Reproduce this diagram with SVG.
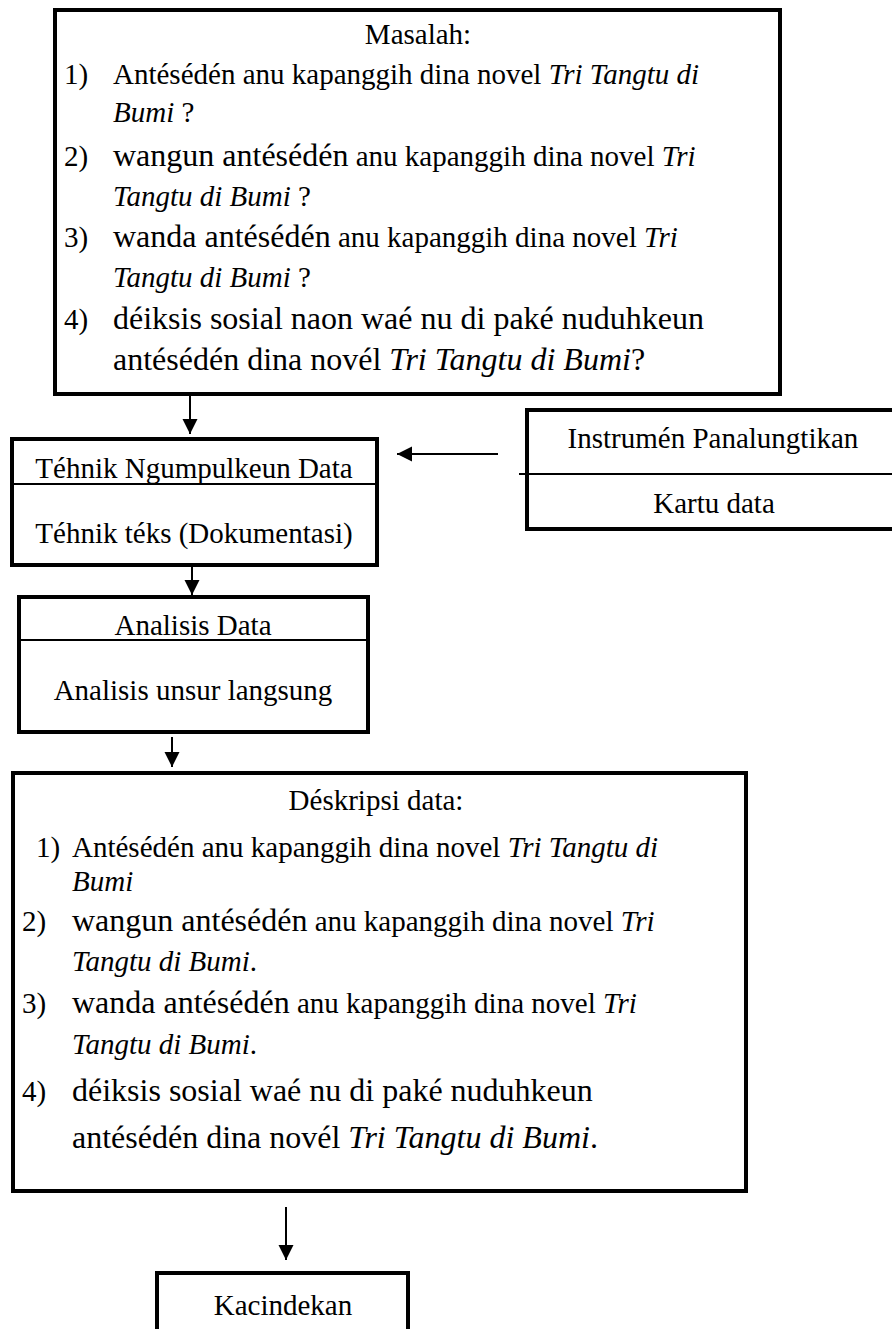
<svg xmlns="http://www.w3.org/2000/svg" width="892" height="1329" viewBox="0 0 892 1329">
<style>
.box{fill:#fff;stroke:#000;stroke-width:4}
.div{stroke:#000;stroke-width:2}
.t{font-family:"Liberation Serif","Times New Roman",serif;font-size:29px;fill:#000}
.c{text-anchor:middle}
.i{font-style:italic}
.b{font-size:32px}
.conn{stroke:#000;stroke-width:2;fill:none}
</style>
<defs>
<marker id="ah" markerUnits="userSpaceOnUse" markerWidth="16" markerHeight="16" refX="15" refY="7.5" orient="auto">
<path d="M0,0 L15,7.5 L0,15 z" fill="#000"/>
</marker>
</defs>
<rect width="892" height="1329" fill="#fff"/>

<g id="masalah">
<rect class="box" x="55" y="10" width="725" height="384"/>
<text class="t c" x="418" y="44">Masalah:</text>
<text class="t" x="64" y="84">1)</text>
<text class="t" x="113" y="84">Antésédén anu kapanggih dina novel <tspan class="i">Tri Tangtu di</tspan></text>
<text class="t" x="113" y="122"><tspan class="i">Bumi</tspan> ?</text>
<text class="t" x="64" y="166">2)</text>
<text class="t" x="113" y="166"><tspan class="b">wangun antésédén</tspan> anu kapanggih dina novel <tspan class="i">Tri</tspan></text>
<text class="t" x="113" y="206"><tspan class="i">Tangtu di Bumi</tspan> ?</text>
<text class="t" x="64" y="247">3)</text>
<text class="t" x="113" y="247"><tspan class="b">wanda antésédén</tspan> anu kapanggih dina novel <tspan class="i">Tri</tspan></text>
<text class="t" x="113" y="287"><tspan class="i">Tangtu di Bumi</tspan> ?</text>
<text class="t" x="64" y="329">4)</text>
<text class="t b" x="113" y="329">déiksis sosial naon waé nu di paké nuduhkeun</text>
<text class="t b" x="113" y="370">antésédén dina novél <tspan class="i">Tri Tangtu di Bumi</tspan>?</text>
</g>

<g id="tehnik">
<rect class="box" x="12" y="439" width="365" height="126"/>
<line class="div" x1="12" y1="484" x2="377" y2="484"/>
<text class="t c" x="194" y="478">Téhnik Ngumpulkeun Data</text>
<text class="t c" x="194" y="543">Téhnik téks (Dokumentasi)</text>
</g>

<g id="instrumen">
<rect class="box" x="527" y="410" width="380" height="119"/>
<line class="div" x1="519" y1="474" x2="900" y2="474"/>
<text class="t c" x="713" y="448">Instrumén Panalungtikan</text>
<text class="t c" x="714" y="513">Kartu data</text>
</g>

<g id="analisis">
<rect class="box" x="19" y="597" width="349" height="135"/>
<line class="div" x1="19" y1="640" x2="368" y2="640"/>
<text class="t c" x="193" y="635">Analisis Data</text>
<text class="t c" x="193" y="700">Analisis unsur langsung</text>
</g>

<g id="deskripsi">
<rect class="box" x="13" y="773" width="733" height="418"/>
<text class="t c" x="376" y="810">Déskripsi data:</text>
<text class="t" x="36" y="857">1)</text>
<text class="t" x="72" y="857">Antésédén anu kapanggih dina novel <tspan class="i">Tri Tangtu di</tspan></text>
<text class="t i" x="72" y="891">Bumi</text>
<text class="t" x="22" y="931">2)</text>
<text class="t" x="72" y="931"><tspan class="b">wangun antésédén</tspan> anu kapanggih dina novel <tspan class="i">Tri</tspan></text>
<text class="t" x="72" y="971"><tspan class="i">Tangtu di Bumi</tspan>.</text>
<text class="t" x="22" y="1013">3)</text>
<text class="t" x="72" y="1013"><tspan class="b">wanda antésédén</tspan> anu kapanggih dina novel <tspan class="i">Tri</tspan></text>
<text class="t" x="72" y="1054"><tspan class="i">Tangtu di Bumi</tspan>.</text>
<text class="t" x="22" y="1101">4)</text>
<text class="t b" x="72" y="1101">déiksis sosial waé nu di paké nuduhkeun</text>
<text class="t b" x="72" y="1148">antésédén dina novél <tspan class="i">Tri Tangtu di Bumi</tspan>.</text>
</g>

<g id="kacindekan">
<rect class="box" x="157" y="1273" width="251" height="70"/>
<text class="t c" x="283" y="1315">Kacindekan</text>
</g>

<g id="connectors">
<line class="conn" x1="190" y1="396" x2="190" y2="434" marker-end="url(#ah)"/>
<line class="conn" x1="498" y1="454" x2="397" y2="454" marker-end="url(#ah)"/>
<line class="conn" x1="192" y1="567" x2="192" y2="595" marker-end="url(#ah)"/>
<line class="conn" x1="172" y1="737" x2="172" y2="767" marker-end="url(#ah)"/>
<line class="conn" x1="286" y1="1207" x2="286" y2="1260" marker-end="url(#ah)"/>
</g>
</svg>
